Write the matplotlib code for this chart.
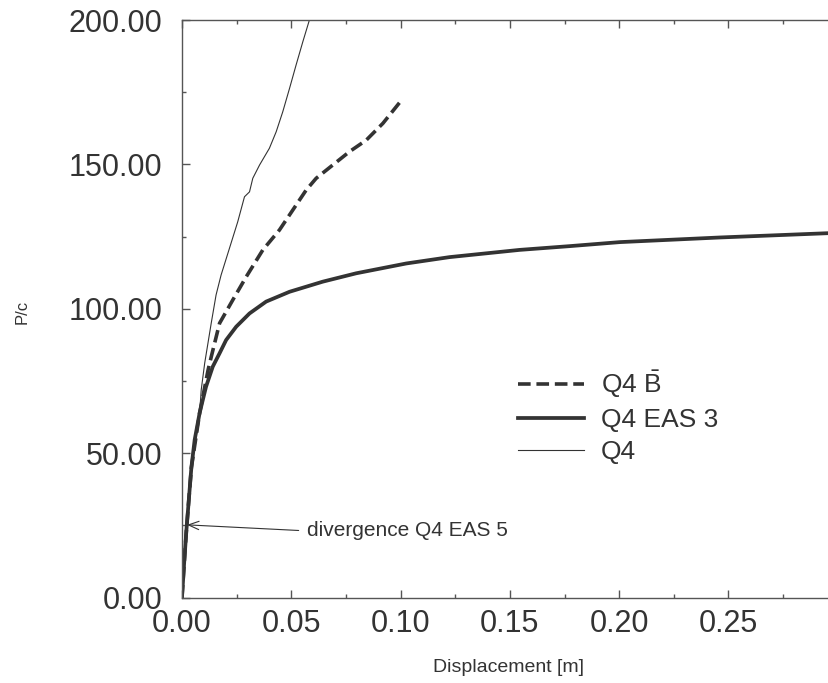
import matplotlib
matplotlib.use('Agg')
import matplotlib.pyplot as plt
from matplotlib.ticker import MultipleLocator, FormatStrFormatter

# 荷重-変位曲線 (読み取り値)
# Q4 B-bar (破線)
bbar_x = [0.0, 0.002, 0.0043, 0.0081, 0.012, 0.0134, 0.0172, 0.0232, 0.0294, 0.037,
          0.0446, 0.0507, 0.0568, 0.0614, 0.069, 0.0766, 0.0843, 0.0919, 0.1005]
bbar_y = [0.0, 23.0, 45.0, 64.0, 79.0, 83.4, 95.0, 103.0, 111.1, 120.4,
          127.3, 134.2, 141.1, 145.2, 149.8, 154.4, 158.4, 164.2, 172.3]

# Q4 EAS 3 (太線)
eas3_x = [0.0, 0.001, 0.002, 0.0043, 0.0058, 0.0081, 0.011, 0.0141, 0.0172, 0.0202,
          0.0248, 0.0309, 0.0385, 0.0492, 0.0644, 0.0797, 0.1026, 0.1224, 0.1544,
          0.1773, 0.2004, 0.246, 0.296]
eas3_y = [0.0, 12.0, 23.0, 45.0, 54.6, 64.0, 73.0, 80.0, 84.6, 89.2,
          93.8, 98.4, 102.5, 105.9, 109.4, 112.3, 115.7, 117.9, 120.4,
          121.7, 123.1, 124.7, 126.2]

# Q4 (細線)
q4_x = [0.0, 0.002, 0.0043, 0.0081, 0.0088, 0.0104, 0.0134, 0.0156, 0.0179, 0.0217,
        0.0255, 0.0286, 0.0309, 0.0324, 0.0355, 0.04, 0.0431, 0.0461, 0.0492, 0.0522,
        0.0553, 0.0583]
q4_y = [0.0, 23.0, 45.0, 64.0, 71.9, 81.2, 95.1, 104.8, 111.7, 120.9,
        130.1, 138.8, 140.5, 145.2, 149.8, 155.6, 161.3, 168.2, 176.3, 184.4,
        192.5, 200.0]

labels = ['Q4 $\\bar{\\mathrm{B}}$', 'Q4 EAS 3', 'Q4']

# 発散点の注記
div_point = (0.0023, 25.2)
div_text = 'divergence Q4 EAS 5'

plt.rcParams['font.family'] = ['Liberation Sans', 'DejaVu Sans']
plt.rcParams['mathtext.fontset'] = 'custom'
plt.rcParams['mathtext.rm'] = 'Liberation Sans'

line_col = '#333333'
text_col = '#333333'

fig = plt.figure(figsize=(8.29, 6.83), dpi=100)
ax = fig.add_axes([0.2195, 0.125, 0.7805, 0.8457])

ax.plot(bbar_x, bbar_y, color=line_col, lw=2.6, dashes=(3.5, 1.6), label=labels[0])
ax.plot(eas3_x, eas3_y, color=line_col, lw=2.7, label=labels[1])
ax.plot(q4_x, q4_y, color=line_col, lw=0.8, label=labels[2])

ax.set_xlim(0, 0.296)
ax.set_ylim(0, 200)

ax.xaxis.set_major_locator(MultipleLocator(0.05))
ax.xaxis.set_minor_locator(MultipleLocator(0.025))
ax.yaxis.set_major_locator(MultipleLocator(50))
ax.yaxis.set_minor_locator(MultipleLocator(25))
ax.xaxis.set_major_formatter(FormatStrFormatter('%.2f'))
ax.yaxis.set_major_formatter(FormatStrFormatter('%.2f'))

ax.spines['right'].set_visible(False)
for s in ['left', 'bottom', 'top']:
    ax.spines[s].set_color('#555555')
    ax.spines[s].set_linewidth(1.0)

ax.tick_params(which='both', direction='in', top=True, right=False, color='#555555',
               labelsize=22, labelcolor=text_col)
ax.tick_params(which='major', length=6, width=1.0)
ax.tick_params(which='minor', length=3, width=1.0)
ax.tick_params(axis='x', pad=8)
ax.tick_params(axis='y', pad=14)

# 凡例 (枠なし)
ax.legend(loc='upper left', bbox_to_anchor=(0.519, 0.397), frameon=False,
          fontsize=19, handlelength=2.5, handletextpad=0.65, labelspacing=0.3,
          borderpad=0, borderaxespad=0, labelcolor=text_col)

# 注記
ax.annotate(div_text, xy=div_point, xytext=(0.0572, 23.1), fontsize=15, color=text_col,
            ha='left', va='center',
            arrowprops=dict(arrowstyle='->,head_length=0.5,head_width=0.2', color=line_col,
                            lw=0.8, shrinkA=4, shrinkB=0, relpos=(0, 0.5)))

fig.text(21.7 / 829, 1 - 312 / 683, 'P/c', rotation=90, ha='center', va='center',
         fontsize=12, color=text_col)
fig.text(509 / 829, 1 - 668 / 683, 'Displacement [m]', ha='center', va='center',
         fontsize=14, color=text_col)

fig.savefig('out.png', dpi=100)
